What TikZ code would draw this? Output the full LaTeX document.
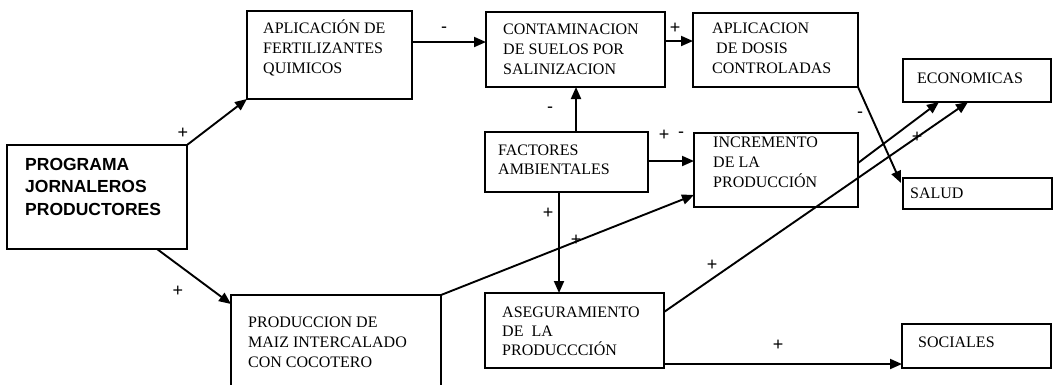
\documentclass[tikz,border=0pt]{standalone}
\usepackage{fontspec}
\setmainfont{Liberation Serif}
\newfontfamily\boldsans{Liberation Sans}
\usetikzlibrary{arrows.meta,calc}
\begin{document}
\begin{tikzpicture}[x=1pt,y=-1pt,
  box/.style={draw,line width=1.5pt,inner sep=0pt,outer sep=0pt,anchor=north west},
  txt/.style={anchor=base west,inner sep=0pt,align=left,font=\fontsize{16}{20}\selectfont},
  conn/.style={line width=1.9pt,-{Triangle[length=12pt,width=10pt]}},
  sgn/.style={inner sep=0pt,font=\boldsans\fontsize{18}{18}\selectfont}]
\useasboundingbox (0,0) rectangle (1057,384);
\clip (0,0) rectangle (1057,384);
% boxes
\node[box,minimum width=180pt,minimum height=104pt] (prog) at (7,145) {};
\node[box,minimum width=165pt,minimum height=88pt] (fert) at (247,11) {};
\node[box,minimum width=179pt,minimum height=75pt] (contam) at (486,12) {};
\node[box,minimum width=165pt,minimum height=74pt] (dosis) at (693,13) {};
\node[box,minimum width=148pt,minimum height=43pt] (econ) at (903,59) {};
\node[box,minimum width=163pt,minimum height=60pt] (fact) at (485,132) {};
\node[box,minimum width=164pt,minimum height=74pt] (incr) at (694,133) {};
\node[box,minimum width=149pt,minimum height=31pt] (salud) at (903,178) {};
\node[box,minimum width=210pt,minimum height=110pt] (prod) at (231,295) {};
\node[box,minimum width=179pt,minimum height=75pt] (aseg) at (485,293) {};
\node[box,minimum width=149pt,minimum height=44pt] (soc) at (902,324) {};
% texts (anchor base west = baseline of the last line)
\node[txt,font=\boldsans\bfseries\fontsize{17.5}{22.5}\selectfont] (progt) at ($(prog.north west)+(18,70)$) {PROGRAMA\\JORNALEROS\\PRODUCTORES};
\node[txt] (fertt) at ($(fert.north west)+(16,62)$) {APLICACIÓN DE\\FERTILIZANTES\\QUIMICOS};
\node[txt] (contamt) at ($(contam.north west)+(17,62)$) {CONTAMINACION\\DE SUELOS POR\\SALINIZACION};
\node[txt] (dosist) at ($(dosis.north west)+(19,60)$) {APLICACION\\\hspace*{4pt}DE DOSIS\\CONTROLADAS};
\node[txt] (econt) at ($(econ.north west)+(14,24)$) {ECONOMICAS};
\node[txt,font=\fontsize{16}{19}\selectfont] (factt) at ($(fact.north west)+(13,42)$) {FACTORES\\AMBIENTALES};
\node[txt] (incrt) at ($(incr.north west)+(19,54)$) {INCREMENTO\\DE LA\\PRODUCCIÓN};
\node[txt] (saludt) at ($(salud.north west)+(7,20)$) {SALUD};
\node[txt] (prodt) at ($(prod.north west)+(17,72)$) {PRODUCCION DE\\MAIZ INTERCALADO\\CON COCOTERO};
\node[txt,font=\fontsize{16}{19}\selectfont] (asegt) at ($(aseg.north west)+(17,62)$) {ASEGURAMIENTO\\DE\ \ LA\\PRODUCCCIÓN};
\node[txt] (soct) at ($(soc.north west)+(16,23)$) {SOCIALES};
% connectors
\draw[conn] (prog.north east) -- (fert.south west);
\draw[conn] ($(prog.south west)+(150,0)$) -- ($(prod.north west)+(0,9)$);
\draw[conn] ($(fert.north east)+(0,31)$) -- ($(contam.north west)+(0,30)$);
\draw[conn] ($(contam.north east)+(0,29)$) -- ($(dosis.north west)+(0,28)$);
\draw[conn] ($(fact.north west)+(91,0)$) -- ($(contam.south west)+(90,0)$);
\draw[conn] ($(fact.north east)+(0,29)$) -- ($(incr.north west)+(0,28)$);
\draw[conn] ($(fact.south west)+(74,0)$) -- ($(aseg.north west)+(74,0)$);
\draw[conn] (prod.north east) -- ($(incr.south west)+(0,-12)$);
\draw[conn] ($(aseg.north east)+(0,19)$) -- ($(econ.south west)+(65,0)$);
\draw[conn] ($(incr.north east)+(0,30)$) -- ($(econ.south west)+(36,0)$);
\draw[conn] (dosis.south east) -- ($(salud.north west)+(-2,5)$);
\draw[conn] ($(aseg.south east)+(0,-4)$) -- ($(soc.south west)+(0,-4)$);
% signs
\node[sgn] (s1) at (183,133) {+};
\node[sgn] (s2) at (178,291) {+};
\node[sgn] (s3) at (444,30) {-};
\node[sgn] (s4) at (675,28) {+};
\node[sgn] (s5) at (550,110) {-};
\node[sgn] (s6) at (664,135) {+};
\node[sgn] (s7) at (681,135) {-};
\node[sgn] (s8) at (548,213) {+};
\node[sgn] (s9) at (576,240) {+};
\node[sgn] (s10) at (712,265) {+};
\node[sgn] (s11) at (917,137) {+};
\node[sgn] (s12) at (860,115) {-};
\node[sgn] (s13) at (778,345) {+};
\end{tikzpicture}
\end{document}
